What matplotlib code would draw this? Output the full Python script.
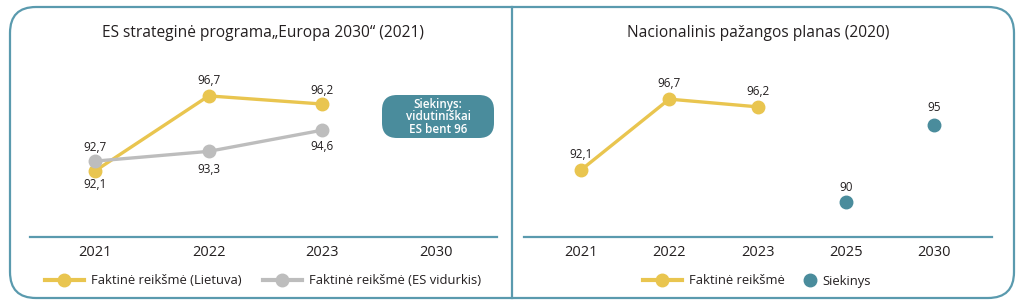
import matplotlib
matplotlib.use("Agg")
import matplotlib.pyplot as plt
from matplotlib.patches import FancyBboxPatch
from matplotlib.lines import Line2D
from matplotlib.legend import Legend

plt.rcParams['font.family'] = ['Open Sans', 'DejaVu Sans']

# ---- data ----
left_title = "ES strateginė programa„Europa 2030“ (2021)"
left_years = ["2021", "2022", "2023", "2030"]
lt_values = [92.1, 96.7, 96.2]          # Lietuva 2021-2023
eu_values = [92.7, 93.3, 94.6]          # ES vidurkis 2021-2023
left_target_text = "Siekinys:\nvidutiniškai\nES bent 96"

right_title = "Nacionalinis pažangos planas (2020)"
right_years = ["2021", "2022", "2023", "2025", "2030"]
np_actual = [92.1, 96.7, 96.2]          # 2021-2023
np_target_years = ["2025", "2030"]
np_target = [90, 95]

YELLOW = "#E9C54F"
GREY = "#BDBDBD"
TEAL = "#4A8C9C"
BORDER = "#5A9AAE"
TXT = "#231F20"

W, H = 1024, 307
fig = plt.figure(figsize=(W / 100, H / 100), dpi=100)


def fx(px):
    return px / W


def fy(py):
    return 1 - py / H


# outer rounded border (in inches so corners are circular)
bx0, bx1, by0, by1 = 10, 1014, 7, 298
border = FancyBboxPatch((bx0 / 100, (H - by1) / 100), (bx1 - bx0) / 100, (by1 - by0) / 100,
                        boxstyle="round,pad=0,rounding_size=0.26",
                        transform=fig.dpi_scale_trans, fill=False,
                        edgecolor=BORDER, linewidth=1.6, zorder=0)
fig.patches.append(border)
fig.add_artist(Line2D([fx(511.5), fx(511.5)], [fy(7), fy(298)], color=BORDER,
                      linewidth=1.6, transform=fig.transFigure))


def fmt(v):
    return f"{v:g}".replace(".", ",")


def setup_axes(ax, labels):
    for s in ["top", "right", "left"]:
        ax.spines[s].set_visible(False)
    ax.spines["bottom"].set_color(BORDER)
    ax.spines["bottom"].set_linewidth(1.6)
    ax.set_yticks([])
    ax.set_xticks(range(len(labels)))
    ax.set_xticklabels(labels, fontsize=10.5, color=TXT, fontweight='medium')
    ax.tick_params(axis='x', length=0, pad=6)
    ax.patch.set_alpha(0)


LEG_FS = 9.4


def add_legend(ax, handle, label, x_px, hlen, tpad):
    leg = Legend(ax, [handle], [label], loc='center left',
                 bbox_to_anchor=(fx(x_px), fy(281)), bbox_transform=fig.transFigure,
                 frameon=False, fontsize=LEG_FS, handlelength=hlen,
                 handletextpad=tpad, borderpad=0, borderaxespad=0,
                 labelcolor=TXT)
    ax.add_artist(leg)


# ---- left panel ----
axL = fig.add_axes([fx(30), fy(237), fx(497) - fx(30), fy(60) - fy(237)])
setup_axes(axL, left_years)
xs = list(range(len(lt_values)))
axL.plot(xs, eu_values, color=GREY, linewidth=2.4, marker='o', markersize=9, zorder=3)
axL.plot(xs, lt_values, color=YELLOW, linewidth=2.4, marker='o', markersize=9, zorder=2)
axL.set_xlim(-0.572, 3.536)
axL.set_ylim(88.05, 98.9)
lt_offsets = [-10, 11, 10]
eu_offsets = [10, -13, -12]
for x, v, o in zip(xs, lt_values, lt_offsets):
    axL.annotate(fmt(v), (x, v), xytext=(0, o), textcoords='offset points',
                 ha='center', va='center', fontsize=8.5, color=TXT)
for x, v, o in zip(xs, eu_values, eu_offsets):
    axL.annotate(fmt(v), (x, v), xytext=(0, o), textcoords='offset points',
                 ha='center', va='center', fontsize=8.5, color=TXT)
# target box
bcx, bcy, bw, bh = 438, 116.5, 112, 43
box = FancyBboxPatch(((bcx - bw / 2) / 100, (H - bcy - bh / 2) / 100), bw / 100, bh / 100,
                     boxstyle="round,pad=0,rounding_size=0.15",
                     transform=fig.dpi_scale_trans, fc=TEAL, ec='none', zorder=1)
fig.patches.append(box)
fig.text(fx(bcx), fy(bcy + 0.5), left_target_text, ha='center', va='center', fontsize=8.4,
         color='white', fontweight='semibold', linespacing=0.98)
fig.text(fx(263), fy(33), left_title, ha='center', va='center', fontsize=11.2, color=TXT)

add_legend(axL, Line2D([], [], color=YELLOW, lw=3, marker='o', markersize=9),
           "Faktinė reikšmė (Lietuva)", 45, 2.95, 0.6)
add_legend(axL, Line2D([], [], color=GREY, lw=3, marker='o', markersize=9),
           "Faktinė reikšmė (ES vidurkis)", 263, 2.95, 0.6)

# ---- right panel ----
axR = fig.add_axes([fx(524), fy(237), fx(992) - fx(524), fy(60) - fy(237)])
setup_axes(axR, right_years)
xa = list(range(len(np_actual)))
axR.plot(xa, np_actual, color=YELLOW, linewidth=2.4, marker='o', markersize=9, zorder=2)
xt = [right_years.index(y) for y in np_target_years]
axR.plot(xt, np_target, linestyle='none', color=TEAL, marker='o', markersize=9, zorder=2)
axR.set_xlim(-0.646, 4.657)
axR.set_ylim(87.75, 99.24)
for x, v in zip(xa, np_actual):
    axR.annotate(fmt(v), (x, v), xytext=(0, 11), textcoords='offset points',
                 ha='center', va='center', fontsize=8.5, color=TXT)
for x, v, o in zip(xt, np_target, [11, 13]):
    axR.annotate(fmt(v), (x, v), xytext=(0, o), textcoords='offset points',
                 ha='center', va='center', fontsize=8.5, color=TXT)
fig.text(fx(758), fy(33), right_title, ha='center', va='center', fontsize=11.2, color=TXT)

add_legend(axR, Line2D([], [], color=YELLOW, lw=3, marker='o', markersize=9),
           "Faktinė reikšmė", 643, 2.95, 0.6)
add_legend(axR, Line2D([], [], color=TEAL, lw=0, marker='o', markersize=9),
           "Siekinys", 803, 1.0, 0.5)

fig.savefig("out.png", dpi=100)
